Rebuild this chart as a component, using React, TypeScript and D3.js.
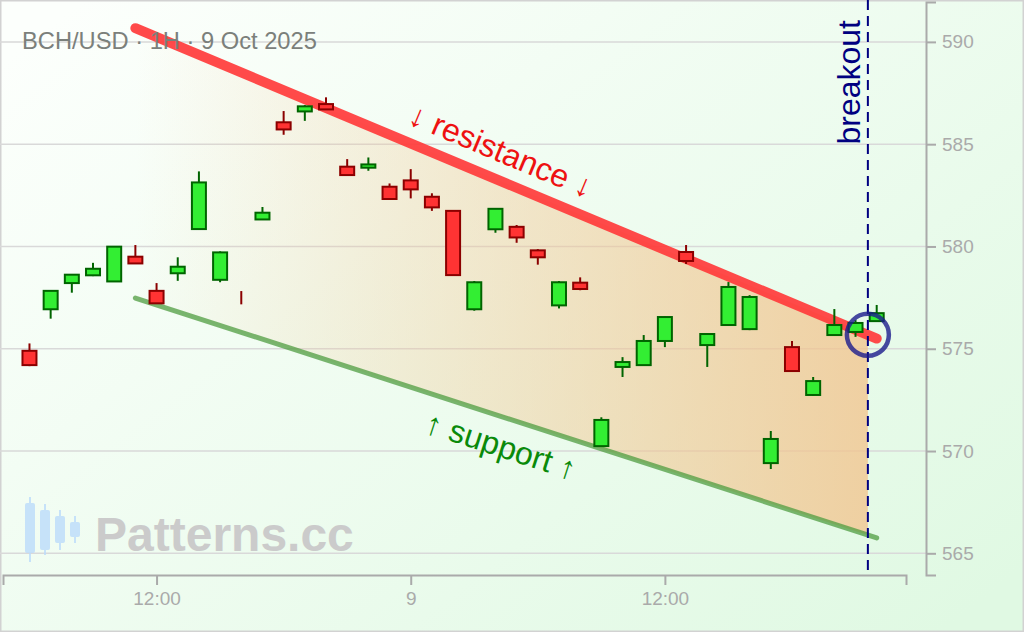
import * as d3 from "d3";
import { useRef, useEffect } from "react";

// hourly candles, 8-9 Oct 2025
const times: string[] = [
  "2025-10-08T06:00", "2025-10-08T07:00", "2025-10-08T08:00", "2025-10-08T09:00", "2025-10-08T10:00",
  "2025-10-08T11:00", "2025-10-08T12:00", "2025-10-08T13:00", "2025-10-08T14:00", "2025-10-08T15:00",
  "2025-10-08T16:00", "2025-10-08T17:00", "2025-10-08T18:00", "2025-10-08T19:00", "2025-10-08T20:00",
  "2025-10-08T21:00", "2025-10-08T22:00", "2025-10-08T23:00", "2025-10-09T00:00", "2025-10-09T01:00",
  "2025-10-09T02:00", "2025-10-09T03:00", "2025-10-09T04:00", "2025-10-09T05:00", "2025-10-09T06:00",
  "2025-10-09T07:00", "2025-10-09T08:00", "2025-10-09T09:00", "2025-10-09T10:00", "2025-10-09T11:00",
  "2025-10-09T12:00", "2025-10-09T13:00", "2025-10-09T14:00", "2025-10-09T15:00", "2025-10-09T16:00",
  "2025-10-09T17:00", "2025-10-09T18:00", "2025-10-09T19:00", "2025-10-09T20:00", "2025-10-09T21:00",
  "2025-10-09T22:00",
];
const open: number[] = [
  574.9, 576.93, 578.21, 578.59, 578.29, 579.5, 577.83, 578.69, 580.85, 578.37,
  577.5, 581.32, 586.07, 586.6, 586.96, 583.9, 583.85, 582.92, 583.23, 582.43,
  581.74, 576.93, 580.84, 580.96, 579.81, 577.12, 578.23, 570.24, 574.11, 574.2,
  575.38, 579.73, 575.18, 576.16, 575.96, 569.41, 575.08, 572.74, 575.67, 575.82,
  576.35,
];
const high: number[] = [
  575.26, 577.85, 578.64, 579.2, 580.0, 580.07, 578.21, 579.47, 583.67, 579.76,
  577.82, 581.93, 586.62, 586.91, 587.29, 584.27, 584.35, 583.08, 583.78, 582.6,
  581.76, 578.31, 581.86, 581.05, 579.87, 578.31, 578.49, 571.65, 574.59, 575.67,
  576.57, 580.07, 575.75, 578.26, 577.62, 570.98, 575.38, 573.62, 576.94, 576.4,
  577.14,
];
const low: number[] = [
  574.15, 576.47, 577.74, 578.55, 578.27, 579.15, 577.2, 578.32, 580.83, 578.25,
  577.17, 581.3, 585.46, 586.14, 586.68, 583.47, 583.7, 582.3, 582.35, 581.74,
  578.58, 576.86, 580.67, 580.18, 579.11, 576.97, 577.86, 570.2, 573.62, 574.18,
  575.08, 579.14, 574.11, 576.14, 575.91, 569.12, 573.89, 572.69, 575.65, 575.58,
  576.33,
];
const close: number[] = [
  574.2, 577.83, 578.62, 578.91, 579.99, 579.17, 577.22, 579.01, 583.13, 579.71,
  577.5, 581.65, 585.72, 586.85, 586.7, 583.49, 584.01, 582.32, 582.79, 581.91,
  578.6, 578.25, 581.84, 580.44, 579.47, 578.25, 577.92, 571.52, 574.35, 575.38,
  576.55, 579.29, 575.72, 578.02, 577.53, 570.59, 573.91, 573.42, 576.16, 576.26,
  576.74,
];

// channel lines
const lineTimes: string[] = ["2025-10-08T11:00", "2025-10-09T22:00"];
const resistance: number[] = [590.67, 575.5];
const support: number[] = [577.48, 565.75];
const breakoutTime = "2025-10-09T21:35";
const resLabelTime = "2025-10-09T03:45";
const supLabelTime = "2025-10-09T04:40";

// axes
const xDomain: string[] = ["2025-10-08T04:45", "2025-10-09T23:23"];
const xTickTimes: string[] = ["2025-10-08T12:00", "2025-10-09T00:00", "2025-10-09T12:00"];
const xTickLabels: string[] = ["12:00", "9", "12:00"];
const yDomain: number[] = [563.94, 591.95];
const yTicks: number[] = [565, 570, 575, 580, 585, 590];

const FONT = "'Liberation Sans', Arial, sans-serif";

export default function App() {
  const xAxisRef: any = useRef();
  const yAxisRef: any = useRef();

  const w = 1024;
  const h = 632;
  const x = d3.scaleTime().domain(xDomain.map((d) => new Date(d))).range([3, 906]);
  const y = d3.scaleLinear().domain(yDomain).range([575, 2]);

  const t = times.map((d) => new Date(d));
  const lt = lineTimes.map((d) => new Date(d));
  const bt = new Date(breakoutTime);

  const resAt = d3.scaleLinear().domain(lt.map((d) => +d)).range(resistance);
  const supAt = d3.scaleLinear().domain(lt.map((d) => +d)).range(support);

  const line = d3
    .line<[Date, number]>()
    .x((d) => x(d[0]))
    .y((d) => y(d[1]));

  const area = d3
    .area<Date>()
    .x((d) => x(d))
    .y0((d) => y(supAt(+d)))
    .y1((d) => y(resAt(+d)));

  const resAngle =
    (Math.atan2(y(resistance[1]) - y(resistance[0]), x(lt[1]) - x(lt[0])) * 180) / Math.PI;
  const supAngle =
    (Math.atan2(y(support[1]) - y(support[0]), x(lt[1]) - x(lt[0])) * 180) / Math.PI;
  const rlt = new Date(resLabelTime);
  const slt = new Date(supLabelTime);

  useEffect(() => {
    //x axis
    const xAxis = d3
      .axisBottom(x)
      .tickValues(xTickTimes.map((d) => new Date(d)))
      .tickFormat((_d: any, i: number) => xTickLabels[i])
      .tickSize(10)
      .tickPadding(7);
    const gx = d3.select(xAxisRef.current);
    gx.selectAll("*").remove();
    gx.call(xAxis as any);
    gx.selectAll("path, line").attr("stroke", "#aaaaaa").attr("stroke-width", 2);
    gx.selectAll("text").attr("fill", "#aaaaaa").style("font-size", "19px").style("font-family", FONT);

    //y axis
    const yAxis = d3.axisRight(y).tickValues(yTicks).tickSize(10).tickPadding(6);
    const gy = d3.select(yAxisRef.current);
    gy.selectAll("*").remove();
    gy.call(yAxis as any);
    gy.selectAll("path, line").attr("stroke", "#aaaaaa").attr("stroke-width", 2);
    gy.selectAll("text").attr("fill", "#aaaaaa").style("font-size", "19px").style("font-family", FONT);
  }, []);

  return (
    <div>
      <style>{`body{margin:0}`}</style>
      <svg width={w} height={h} style={{ display: "block" }}>
        <defs>
          <linearGradient id="bg" x1="0" y1="0.1" x2="1" y2="0.9">
            <stop offset="0" stopColor="#fcfffc" />
            <stop offset="1" stopColor="#e0f9e3" />
          </linearGradient>
          <linearGradient
            id="chan"
            gradientUnits="userSpaceOnUse"
            x1={x(lt[0])}
            y1={0}
            x2={x(bt)}
            y2={0}
          >
            <stop offset="0" stopColor="#f2c48e" stopOpacity={0} />
            <stop offset="1" stopColor="#f2c48e" stopOpacity={0.78} />
          </linearGradient>
        </defs>
        <rect x={0} y={0} width={w} height={h} fill="url(#bg)" />
        <rect x={0.75} y={0.75} width={w - 1.5} height={h - 1.5} fill="none" stroke="#d2d2d2" strokeWidth={1.5} />

        {/* grid */}
        {yTicks.map((v) => (
          <line key={v} x1={0} x2={926} y1={y(v)} y2={y(v)} stroke="#d9d9d9" strokeWidth={1.5} />
        ))}

        {/* watermark */}
        <g fill="#bcdcfb" stroke="#bcdcfb" opacity={0.8}>
          {[
            [30, 497, 562, 503, 553],
            [45, 504, 555, 510, 550],
            [60, 510, 550, 516, 543],
            [75, 516, 543, 522, 537],
          ].map((c, i) => (
            <g key={i}>
              <line x1={c[0]} x2={c[0]} y1={c[1]} y2={c[2]} strokeWidth={2} />
              <rect x={c[0] - 5} y={c[3]} width={10} height={c[4] - c[3]} rx={2} stroke="none" />
            </g>
          ))}
        </g>
        <text x={95} y={551} fontFamily={FONT} fontWeight="bold" fontSize={48} fill="#cbcbcb">
          Patterns.cc
        </text>

        {/* channel */}
        <path d={area([lt[0], bt]) || ""} fill="url(#chan)" />
        <path
          d={line([[lt[0], support[0]], [lt[1], support[1]]]) || ""}
          stroke="#4f9c40"
          strokeOpacity={0.75}
          strokeWidth={5}
          strokeLinecap="round"
          fill="none"
        />
        <path
          d={line([[lt[0], resistance[0]], [lt[1], resistance[1]]]) || ""}
          stroke="#ff3b3b"
          strokeOpacity={0.92}
          strokeWidth={10}
          strokeLinecap="round"
          fill="none"
        />

        {/* candles */}
        {t.map((d, i) => {
          const up = close[i] > open[i];
          const stroke = up ? "#006400" : "#8b0000";
          const fill = up ? "#33ee33" : "#ff3333";
          const cx = x(d);
          const top = y(Math.max(open[i], close[i]));
          const bot = y(Math.min(open[i], close[i]));
          return (
            <g key={i}>
              <line x1={cx} x2={cx} y1={y(high[i])} y2={y(low[i])} stroke={stroke} strokeWidth={2} />
              <rect x={cx - 7} y={top} width={14} height={bot - top} fill={fill} stroke={stroke} strokeWidth={2} />
            </g>
          );
        })}

        {/* labels */}
        <text
          transform={`translate(${x(rlt)},${y(resAt(+rlt))}) rotate(${resAngle})`}
          y={-17}
          textAnchor="middle"
          fontFamily={FONT}
          fontSize={32}
          fill="#ee1111"
        >
          ↓ resistance ↓
        </text>
        <text
          transform={`translate(${x(slt)},${y(supAt(+slt))}) rotate(${supAngle})`}
          y={39}
          textAnchor="middle"
          fontFamily={FONT}
          fontSize={32}
          fill="#0a8a0a"
        >
          ↑ support ↑
        </text>

        {/* breakout */}
        <line x1={x(bt)} x2={x(bt)} y1={0} y2={572} stroke="#000080" strokeWidth={2} strokeDasharray="10,6" />
        <text
          transform={`translate(${x(bt) - 8},20) rotate(-90)`}
          textAnchor="end"
          fontFamily={FONT}
          fontSize={32}
          fill="#000080"
        >
          breakout
        </text>
        <circle
          cx={x(bt)}
          cy={y(resAt(+bt))}
          r={21}
          fill="none"
          stroke="#1c1c8c"
          strokeOpacity={0.8}
          strokeWidth={4.5}
        />

        <text x={22} y={49} fontFamily={FONT} fontSize={23.7} fill="#7b807b">
          BCH/USD · 1H · 9 Oct 2025
        </text>

        <g ref={xAxisRef} transform="translate(0,575)" />
        <g ref={yAxisRef} transform="translate(926,0)" />
      </svg>
    </div>
  );
}
